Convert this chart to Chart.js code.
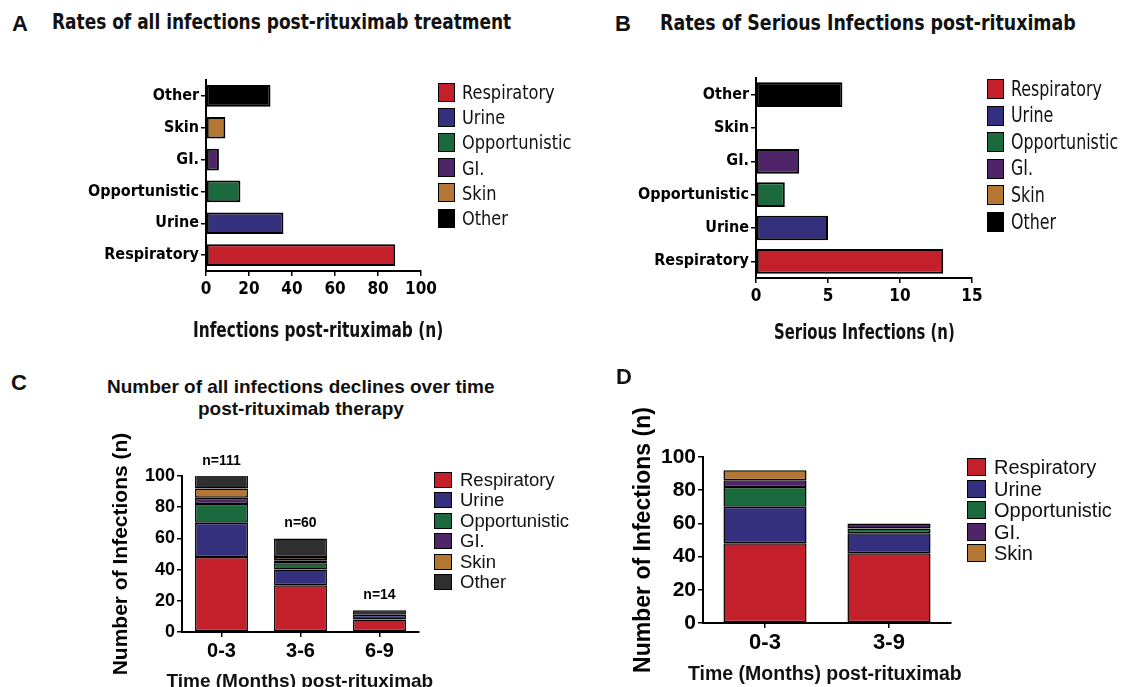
<!DOCTYPE html>
<html><head><meta charset="utf-8">
<script src="https://cdn.jsdelivr.net/npm/chart.js@4.4.1/dist/chart.umd.min.js"></script>
<style>
html,body{margin:0;padding:0;background:#fff;}
body{width:1128px;height:687px;position:relative;overflow:hidden;font-family:'Liberation Sans',Arial,sans-serif;color:#111;}
canvas{position:absolute;}
.txt{position:absolute;white-space:nowrap;transform-origin:0 50%;}
.sw{position:absolute;box-sizing:border-box;border:1.5px solid #000;}
</style></head><body>
<canvas id="cA" width="440" height="320" style="left:0;top:40px"></canvas>
<canvas id="cB" width="400" height="320" style="left:600px;top:40px"></canvas>
<canvas id="cC" width="460" height="275" style="left:0;top:420px"></canvas>
<canvas id="cD" width="528" height="327" style="left:600px;top:360px"></canvas>
<script>
// ---------- data ----------
const categories = ['Respiratory', 'Urine', 'Opportunistic', 'GI.', 'Skin', 'Other'];
const allInfections = [88, 36, 16, 6, 9, 30];
const seriousInfections = [13, 5, 2, 3, 0, 6];

const periodsC = ['0-3', '3-6', '6-9'];
const respiratoryC = [48, 30, 8];
const urineC = [22, 10, 3];
const opportunisticC = [12, 4, 0];
const giC = [4, 2, 0];
const skinC = [6, 2, 0];
const otherC = [19, 12, 3];
const totalLabelsC = ['n=111', 'n=60', 'n=14'];

const periodsD = ['0-3', '3-9'];
const respiratoryD = [48, 42];
const urineD = [22, 12];
const opportunisticD = [12, 3];
const giD = [4, 3];
const skinD = [6, 0];

const axisMaxA = 100, axisStepA = 20;
const axisMaxB = 15, axisStepB = 5;
const axisMaxCD = 100, axisStepCD = 20;

// ---------- styles ----------
const NARROW = "'Liberation Sans Narrow','Arial Narrow','DejaVu Sans Condensed',sans-serif";
const SANS = "'Liberation Sans',Arial,sans-serif";
const colorsAB = ['#c4202b', '#35307e', '#1b6a3d', '#4f2468', '#b37733', '#000000'];
const colorsC = ['#c4202b', '#35307e', '#1b6a3d', '#4f2468', '#b37733', '#2f2f2f'];

// text helper: left edge (or centre), vertical centre, optional horizontal squeeze
function txt(text, x, cy, size, family, weight, o){
  o = o || {};
  const d = document.createElement('div');
  d.className = 'txt'; d.textContent = text;
  const lh = Math.round(size * 1.2);
  d.style.top = (cy - lh / 2) + 'px';
  d.style.fontSize = size + 'px'; d.style.lineHeight = lh + 'px';
  d.style.fontFamily = family; d.style.fontWeight = weight || 'normal';
  document.body.appendChild(d);
  const w = d.offsetWidth;
  let sx = o.sx || 1;
  if (o.width) sx = o.width / w;
  if (sx !== 1) d.style.transform = 'scaleX(' + sx + ')';
  const left = o.center ? x - w * sx / 2 : x;
  d.style.left = left + 'px';
  return d;
}
function legend(labels, colors, o){
  labels.forEach((lab, i) => {
    const cy = o.y0 + i * o.dy;
    const s = document.createElement('div'); s.className = 'sw';
    s.style.left = o.x + 'px'; s.style.top = (cy - o.bh / 2) + 'px';
    s.style.width = o.bw + 'px'; s.style.height = o.bh + 'px'; s.style.background = colors[i];
    document.body.appendChild(s);
    txt(lab, o.tx, cy, o.size, o.family, 'normal', {sx: o.sx});
  });
}

Chart.defaults.animation = false;
Chart.defaults.color = '#000';
Chart.defaults.plugins.legend.display = false;
Chart.defaults.plugins.tooltip.enabled = false;

function axisGrid(){
  return {display: true, drawOnChartArea: false, drawTicks: true, tickLength: 5, color: '#000', lineWidth: 1.5, offset: false};
}
const border = {display: true, color: '#000', width: 2};

// ---------- Panels A & B (horizontal bars) ----------
function hbarConfig(values, max, step, barPct, padding){
  return {
    type: 'bar',
    data: {labels: categories, datasets: [{data: values, backgroundColor: colorsAB, borderColor: '#000', borderWidth: 2, borderSkipped: false, barPercentage: barPct, categoryPercentage: 1}]},
    options: {
      indexAxis: 'y', responsive: false, devicePixelRatio: 1,
      layout: {padding: padding},
      scales: {
        x: {min: 0, max: max, ticks: {stepSize: step, padding: 3, color: '#000', font: {family: NARROW, weight: 'bold', size: 17}},
            grid: axisGrid(), border: border,
            afterFit: s => { s.height = 80; }},
        y: {reverse: true, ticks: {padding: 2, color: '#000', font: {family: NARROW, weight: 'bold', size: 16}},
            grid: axisGrid(), border: border,
            afterFit: s => { s.width = 120; }}
      }
    }
  };
}

txt('A', 12, 24, 22, SANS, 'bold');
txt('Rates of all infections post-rituximab treatment', 52, 22, 22, NARROW, 'bold', {width: 459});
legend(categories, colorsAB, {x: 438, y0: 92, dy: 25.2, bw: 17, bh: 19, tx: 462, size: 20, family: NARROW, sx: 0.9});
new Chart(document.getElementById('cA'), hbarConfig(allInfections, axisMaxA, axisStepA, 0.68, {left: 86, top: 40, right: 16, bottom: 9}));
txt('Infections post-rituximab (n)', 318, 330, 21, NARROW, 'bold', {width: 250, center: true});

txt('B', 615, 24, 22, SANS, 'bold');
txt('Rates of Serious Infections post-rituximab', 660, 23, 22, NARROW, 'bold', {width: 416});
legend(categories, colorsAB, {x: 987, y0: 89, dy: 26.6, bw: 17, bh: 20, tx: 1011, size: 21, family: NARROW, sx: 0.84});
new Chart(document.getElementById('cB'), hbarConfig(seriousInfections, axisMaxB, axisStepB, 0.74, {left: 36, top: 38, right: 28, bottom: 2}));
txt('Serious Infections (n)', 864, 332, 21, NARROW, 'bold', {width: 181, center: true});

// ---------- Panels C & D (stacked bars) ----------
const nLabels = {
  id: 'nLabels',
  afterDatasetsDraw(chart, args, opts){
    if (!opts.labels) return;
    const {ctx, scales: {x, y}} = chart;
    ctx.save();
    ctx.font = 'bold 14px ' + SANS; ctx.fillStyle = '#000';
    ctx.textAlign = 'center'; ctx.textBaseline = 'middle';
    opts.labels.forEach((lab, i) => {
      let tot = 0; chart.data.datasets.forEach(ds => { tot += ds.data[i] || 0; });
      ctx.fillText(lab, x.getPixelForValue(i), y.getPixelForValue(Math.min(tot, y.max)) - opts.offset);
    });
    ctx.restore();
  }
};

function stackedConfig(labels, series, colors, o){
  return {
    type: 'bar',
    data: {labels: labels, datasets: series.map((d, i) => ({label: categories[i], data: d, backgroundColor: colors[i], borderColor: '#000', borderWidth: 1.5, borderSkipped: false, barPercentage: o.barPct, categoryPercentage: 1, clip: 0}))},
    options: {
      responsive: false, devicePixelRatio: 1,
      layout: {padding: o.padding},
      plugins: {nLabels: {labels: o.nLabels, offset: 15}},
      scales: {
        x: {stacked: true, ticks: {padding: 2, color: '#000', font: {family: SANS, weight: 'bold', size: o.xTick}},
            grid: axisGrid(), border: border,
            afterFit: s => { s.height = o.xH; }},
        y: {stacked: true, min: 0, max: axisMaxCD, ticks: {stepSize: axisStepCD, padding: 2, color: '#000', font: {family: SANS, weight: 'bold', size: o.yTick}},
            grid: axisGrid(), border: border,
            title: {display: true, text: 'Number of Infections (n)', color: '#000', font: {family: SANS, weight: 'bold', size: o.yTitle}, padding: {top: o.yTitlePad, bottom: 0}},
            afterFit: s => { s.width = o.yW; }}
      }
    },
    plugins: [nLabels]
  };
}

txt('C', 11, 383, 22, SANS, 'bold');
txt('Number of all infections declines over time', 301, 386, 19, SANS, 'bold', {center: true});
txt('post-rituximab therapy', 301, 408, 19, SANS, 'bold', {center: true});
legend(categories, colorsC, {x: 434, y0: 480, dy: 20.4, bw: 18, bh: 16, tx: 460, size: 18.5, family: SANS});
new Chart(document.getElementById('cC'), stackedConfig(periodsC,
  [respiratoryC, urineC, opportunisticC, giC, skinC, otherC], colorsC,
  {barPct: 0.67, padding: {left: 102, top: 56, right: 41, bottom: 0}, xH: 63, yW: 80, xTick: 20, yTick: 18, yTitle: 21, yTitlePad: 7, nLabels: totalLabelsC}));
txt('Time (Months) post-rituximab', 300, 680, 19, SANS, 'bold', {center: true});

txt('D', 616, 377, 22, SANS, 'bold');
legend(categories.slice(0, 5), colorsAB, {x: 967, y0: 467, dy: 21.5, bw: 19, bh: 18, tx: 994, size: 20, family: SANS});
new Chart(document.getElementById('cD'), stackedConfig(periodsD,
  [respiratoryD, urineD, opportunisticD, giD, skinD], colorsAB,
  {barPct: 0.67, padding: {left: 28, top: 97, right: 177, bottom: 0}, xH: 64, yW: 75, xTick: 22, yTick: 21, yTitle: 23, yTitlePad: 2, nLabels: null}));
txt('Time (Months) post-rituximab', 825, 673, 19.5, SANS, 'bold', {center: true});
</script>
</body></html>
